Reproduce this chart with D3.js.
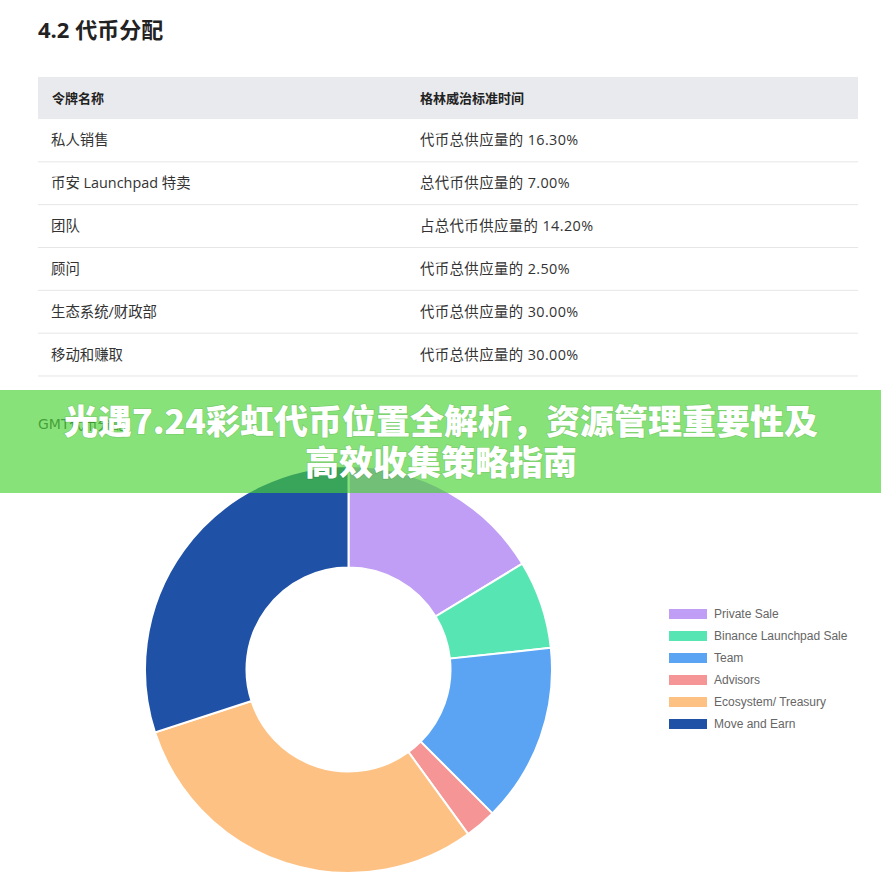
<!DOCTYPE html>
<html><head><meta charset="utf-8">
<script src="https://cdn.jsdelivr.net/npm/d3@7"></script>
<style>html,body{margin:0;padding:0;background:#fff;}svg{display:block;}</style>
</head><body>
<script>
const pageTitle = "4.2 代币分配";
const tableHeaders = ["令牌名称", "格林威治标准时间"];
const rowNamesZh = ["私人销售", "币安 Launchpad 特卖", "团队", "顾问", "生态系统/财政部", "移动和赚取"];
const rowPrefixes = ["代币总供应量的 ", "总代币供应量的 ", "占总代币供应量的 ", "代币总供应量的 ", "代币总供应量的 ", "代币总供应量的 "];
const categories = ["Private Sale", "Binance Launchpad Sale", "Team", "Advisors", "Ecosystem/ Treasury", "Move and Earn"];
const shares = [16.3, 7.0, 14.2, 2.5, 30.0, 30.0];
const colors = ["#c09ef5", "#57e6b3", "#5ba4f4", "#f59595", "#fdc183", "#1f51a6"];
const chartSubtitle = "GMT代币分配";
const bannerLines = ["光遇7.24彩虹代币位置全解析，资源管理重要性及", "高效收集策略指南"];

const W = 881, H = 885;
const svg = d3.select("body").append("svg").attr("width", W).attr("height", H);
const latin = "'Open Sans','Noto Sans CJK SC',sans-serif";

svg.append("text").attr("x", 38).attr("y", 38).attr("font-family", latin)
  .attr("font-size", 22).attr("font-weight", 700).attr("fill", "#222").text(pageTitle);

// table
const tX0 = 38, tX1 = 858, col2 = 420;
const rowY = d3.scaleBand().domain(d3.range(rowNamesZh.length)).range([119, 376]);
svg.append("rect").attr("x", tX0).attr("y", 77).attr("width", tX1 - tX0).attr("height", 42).attr("fill", "#e9eaed");
svg.selectAll("text.hd").data(tableHeaders).join("text").attr("class", "hd")
  .attr("x", (d, i) => i ? col2 : 52).attr("y", 98).attr("dy", "0.35em")
  .attr("font-family", latin).attr("font-size", 13).attr("font-weight", 700).attr("fill", "#222").text(d => d);
const rows = svg.selectAll("g.row").data(rowNamesZh).join("g").attr("class", "row")
  .attr("transform", (d, i) => `translate(0,${rowY(i)})`);
rows.append("line").attr("x1", tX0).attr("x2", tX1).attr("y1", rowY.bandwidth()).attr("y2", rowY.bandwidth())
  .attr("stroke", "#e6e6e6").attr("stroke-width", 1);
rows.append("text").attr("x", 51).attr("y", rowY.bandwidth() / 2).attr("dy", "0.35em")
  .attr("font-family", latin).attr("font-size", 14.4).attr("fill", "#333").text(d => d);
rows.append("text").attr("x", col2).attr("y", rowY.bandwidth() / 2).attr("dy", "0.35em")
  .attr("font-family", latin).attr("font-size", 14.4).attr("letter-spacing", 0.4).attr("fill", "#333")
  .text((d, i) => rowPrefixes[i] + shares[i].toFixed(2) + "%");

svg.append("text").attr("x", 38).attr("y", 424).attr("dy", "0.35em")
  .attr("font-family", "'DejaVu Sans','Noto Sans CJK SC',sans-serif").attr("font-size", 14).attr("fill", "#444").text(chartSubtitle);

// donut
const cx = 348.5, cy = 669.5, rOut = 203.5, rIn = 102;
const pie = d3.pie().sort(null).value(d => d)(shares);
const arc = d3.arc().innerRadius(rIn).outerRadius(rOut);
svg.append("g").attr("transform", `translate(${cx},${cy})`)
  .selectAll("path").data(pie).join("path")
  .attr("d", arc).attr("fill", (d, i) => colors[i]).attr("stroke", "#fff").attr("stroke-width", 2);

// legend
const legY = d3.scalePoint().domain(categories).range([614, 724]);
const leg = svg.selectAll("g.leg").data(categories).join("g").attr("class", "leg")
  .attr("transform", d => `translate(669,${legY(d)})`);
leg.append("rect").attr("x", 0).attr("y", -5).attr("width", 38).attr("height", 10).attr("fill", (d, i) => colors[i]);
leg.append("text").attr("x", 45).attr("y", 0).attr("dy", "0.35em")
  .attr("font-family", "'Liberation Sans',Arial,sans-serif").attr("font-size", 12).attr("fill", "#666").text(d => d);

// banner
svg.append("rect").attr("x", 0).attr("y", 390).attr("width", W).attr("height", 103).attr("fill", "rgb(72,210,50)").attr("fill-opacity", 0.65);
svg.selectAll("text.bn").data(bannerLines).join("text").attr("class", "bn")
  .attr("x", 441).attr("y", (d, i) => 422 + i * 41).attr("dy", "0.35em").attr("text-anchor", "middle")
  .attr("font-family", "'Noto Sans CJK SC',sans-serif").attr("font-size", 34).attr("font-weight", 900)
  .attr("fill", "#fff").style("paint-order", "stroke").attr("stroke", "rgba(0,0,0,0.08)").attr("stroke-width", 2)
  .text(d => d);
</script>
</body></html>
